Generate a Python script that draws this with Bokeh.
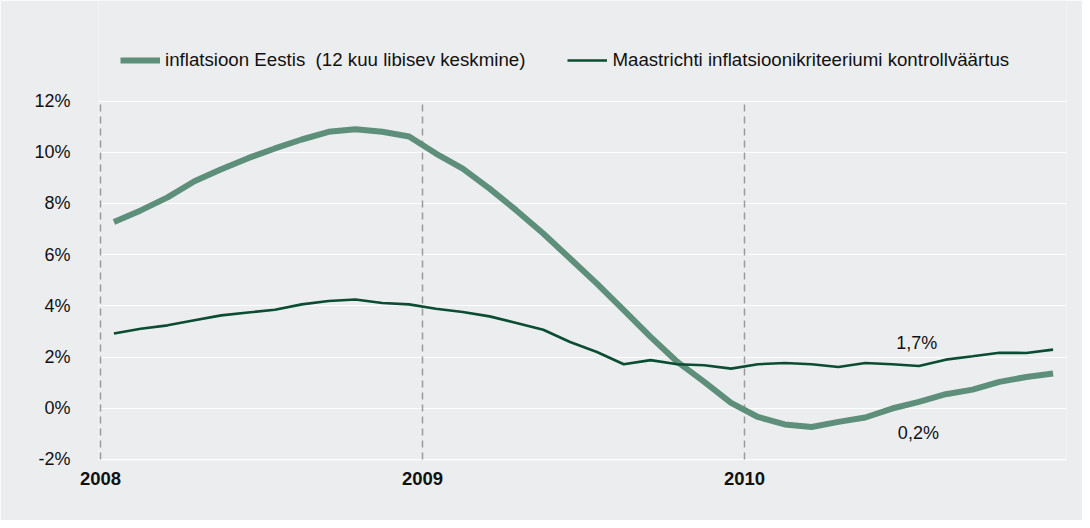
from bokeh.plotting import figure
from bokeh.models import (ColumnDataSource, Legend, LegendItem, FixedTicker,
                          PrintfTickFormatter, Range1d, Label)
from bokeh.embed import file_html
from bokeh.resources import INLINE

# ---------------- data ----------------
years = [2008, 2009, 2010]
year_labels = ["2008", "2009", "2010"]

inflation = [7.28, 7.73, 8.24, 8.87, 9.34, 9.77, 10.15, 10.50, 10.80, 10.90, 10.80, 10.62,
             9.95, 9.36, 8.58, 7.73, 6.83, 5.85, 4.87, 3.83, 2.79, 1.81, 1.03, 0.21,
             -0.34, -0.63, -0.73, -0.53, -0.36, -0.01, 0.25, 0.55, 0.73, 1.03, 1.22, 1.36]

maastricht = [2.92, 3.11, 3.24, 3.44, 3.63, 3.74, 3.85, 4.06, 4.19, 4.25, 4.11, 4.06,
              3.89, 3.76, 3.59, 3.33, 3.07, 2.59, 2.20, 1.72, 1.88, 1.72, 1.68, 1.55,
              1.72, 1.77, 1.72, 1.61, 1.77, 1.72, 1.65, 1.90, 2.03, 2.17, 2.16, 2.29]

y_ticks = [-2, 0, 2, 4, 6, 8, 10, 12]

legend_labels = ["inflatsioon Eestis  (12 kuu libisev keskmine)",
                 "Maastrichti inflatsioonikriteeriumi kontrollväärtus"]

annotations = [("1,7%", 2010.535, 2.54), ("0,2%", 2010.54, -0.96)]

# month mid-points as fractional years
month_x = [years[0] + (i + 0.5) / 12 for i in range(len(inflation))]

BG = "#ecedef"
LIGHT = "#5e8f7a"
DARK = "#0b4d33"
FONT = "Liberation Sans"

src = ColumnDataSource(dict(x=month_x, infl=inflation, maas=maastricht))

p = figure(width=1082, height=520, output_backend="svg", toolbar_location=None,
           x_range=Range1d(2007.9938, 2011), y_range=Range1d(-2.04, 15.93),
           min_border_left=98, min_border_right=16, min_border_top=0,
           min_border_bottom=60)
p.background_fill_color = BG
p.border_fill_color = BG
p.outline_line_color = None

# grid
p.xgrid.visible = False
p.ygrid.ticker = FixedTicker(ticks=y_ticks)
p.ygrid.grid_line_color = "white"
p.ygrid.grid_line_width = 1.2

# axes
p.yaxis.ticker = FixedTicker(ticks=y_ticks)
p.yaxis.formatter = PrintfTickFormatter(format="%d%%")
p.yaxis.axis_line_color = None
p.yaxis.major_tick_line_color = None
p.yaxis.minor_tick_line_color = None
p.yaxis.major_label_standoff = 22
p.yaxis.major_label_text_font = FONT
p.yaxis.major_label_text_font_size = "18px"
p.yaxis.major_label_text_color = "#111111"

p.xaxis.ticker = FixedTicker(ticks=years)
p.xaxis.major_label_overrides = {y: l for y, l in zip(years, year_labels)}
p.xaxis.axis_line_color = None
p.xaxis.major_tick_line_color = None
p.xaxis.minor_tick_line_color = None
p.xaxis.major_label_standoff = 5
p.xaxis.major_label_text_font = FONT
p.xaxis.major_label_text_font_style = "bold"
p.xaxis.major_label_text_font_size = "18.5px"
p.xaxis.major_label_text_color = "#111111"

# dashed year separators
p.segment(x0=years, x1=years, y0=[y_ticks[0]] * len(years), y1=[y_ticks[-1]] * len(years),
          line_color="#9b9b9b", line_width=1.5, line_dash="7 5")

r1 = p.line("x", "infl", source=src, line_color=LIGHT, line_width=6)
r2 = p.line("x", "maas", source=src, line_color=DARK, line_width=2.6)

for txt, ax, ay in annotations:
    p.add_layout(Label(x=ax, y=ay, text=txt, text_align="center", text_baseline="middle",
                       text_font=FONT, text_font_size="18px", text_color="#111111"))

legend = Legend(items=[LegendItem(label=legend_labels[0], renderers=[r1]),
                       LegendItem(label=legend_labels[1], renderers=[r2])],
                orientation="horizontal", location=(22, 389),
                glyph_width=40, glyph_height=20, label_standoff=5, spacing=42,
                padding=0, margin=0, background_fill_alpha=0, border_line_alpha=0,
                label_text_font=FONT, label_text_font_size="18.7px",
                label_text_color="#111111")
p.add_layout(legend)

open("out.html", "w").write(file_html(p, INLINE))
